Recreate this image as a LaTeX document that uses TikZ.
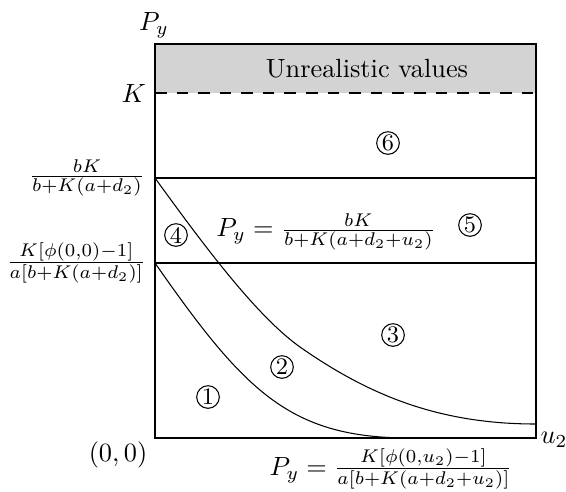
\documentclass[tikz,border=0pt]{standalone}
\usepackage{amsmath}
\usepackage{xcolor}
\usepackage{tikz}
\usetikzlibrary{positioning}
\definecolor{bandgray}{HTML}{D3D3D3}
\tikzset{
  region/.style={circle, draw, thin, inner sep=0pt, minimum size=8.6pt, font=\small},
  frame/.style={line width=0.6pt},
  lbl/.style={inner sep=1pt}
}
\begin{document}
\begin{tikzpicture}[x=0.38pt, y=-0.38pt]
\useasboundingbox (0,0) rectangle (566,491);
\fill[bandgray] (155,44) rectangle (536,93);
\draw[dash pattern=on 4.4pt off 3.8pt] (155,93) -- (536,93);
\draw (155,178) -- (536,178);
\draw (155,263) -- (536,263);
\draw (155,178) .. controls (200,240) and (255,315) .. (300,347)
  .. controls (370,396) and (440,424) .. (536,424);
\draw (155,263) .. controls (245,392) and (290,438) .. (410,438);
\draw[frame] (155,44) rectangle (536,438);
\node[lbl] (unreal) at (367,69) {Unrealistic values};
\node[lbl] (py) at (154,25) {$P_y$};
\node[lbl, anchor=east] (k) at (149,93) {$K$};
\node[lbl, anchor=east] (bk) at (148,178) {$\frac{bK}{b+K(a+d_2)}$};
\node[lbl, anchor=east] (phi) at (149,263) {$\frac{K[\phi(0,0)-1]}{a[b+K(a+d_2)]}$};
\node[lbl] (origin) at (118,455) {$(0,0)$};
\node[lbl] (u2) at (554,440) {$u_2$};
\node[lbl] (top) at (326,232) {$P_y = \frac{bK}{b+K(a+d_2+u_2)}$};
\node[lbl] (bottom) at (391,469) {$P_y = \frac{K[\phi(0,u_2)-1]}{a[b+K(a+d_2+u_2)]}$};
\foreach \n/\x/\y in {1/208/397, 2/282/367, 3/393/335, 4/176/235, 5/470/225, 6/388/143}
  \node[region] (r\n) at (\x,\y) {\n};
\end{tikzpicture}
\end{document}
